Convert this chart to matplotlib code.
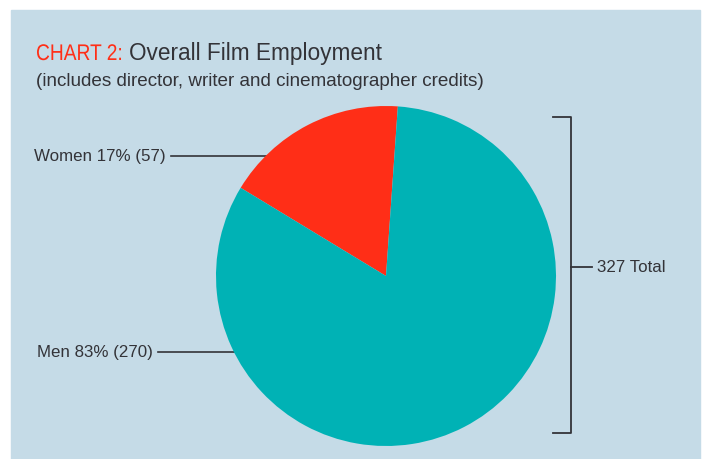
import matplotlib
matplotlib.use("Agg")
import matplotlib.pyplot as plt
from matplotlib.patches import Rectangle, PathPatch
from matplotlib.textpath import TextPath
from matplotlib.font_manager import FontProperties
from matplotlib.transforms import Affine2D

# data
labels = ["Women", "Men"]
counts = [57, 270]
shares = [17, 83]
total = 327

RED = "#ff2e17"
TEAL = "#00b2b5"
BG = "#c5dbe7"
INK = "#333338"
W, H = 704, 459

plt.rcParams["font.family"] = ["Liberation Sans", "DejaVu Sans"]

fig = plt.figure(figsize=(W / 100, H / 100), dpi=100)
ax = fig.add_axes([0, 0, 1, 1])


def py(y):
    # pixel rows from the top -> data y
    return H - y


ax.add_patch(Rectangle((11, 0), 689, py(10), color=BG, zorder=0))

cx, cy, r = 386, py(276), 170
ax.pie(counts, colors=[RED, TEAL], startangle=86, counterclock=True,
       center=(cx, cy), radius=r, frame=True,
       wedgeprops={"linewidth": 0, "zorder": 2})
ax.set_xlim(0, W)
ax.set_ylim(0, H)
ax.set_aspect("equal")
ax.axis("off")

# title: condensed red "CHART 2:" then the rest
TITLE_PT = 16.3
tp = TextPath((0, 0), "CHART 2:", size=TITLE_PT * 100 / 72,
              prop=FontProperties(family="Liberation Sans"))
ext = tp.get_extents()
sx = 84 / ext.width
tp = tp.transformed(Affine2D().translate(-ext.x0, 0).scale(sx, 1).translate(37, py(60)))
ax.add_patch(PathPatch(tp, color=RED, lw=0))
ax.text(129, py(60), "Overall Film Employment", color=INK, fontsize=TITLE_PT,
        va="baseline", ha="left")
ax.text(36, py(86), "(includes director, writer and cinematographer credits)",
        color=INK, fontsize=13.6, va="baseline", ha="left")

# leader labels
lab_y = [156, 352]
lab_x = [166, 153]
line_end = [268, 236]
for name, s, c, y, x, xe in zip(labels, shares, counts, lab_y, lab_x, line_end):
    ax.text(x, py(y), f"{name} {s}% ({c})", color=INK, fontsize=12.2,
            ha="right", va="center")
    ax.plot([x + 5, xe], [py(y), py(y)], color=INK, lw=1.2, zorder=1)

# bracket
bx = 571
ax.plot([553, bx, bx, 553], [py(117), py(117), py(433), py(433)], color=INK, lw=1.3)
ax.plot([bx, 592], [py(267), py(267)], color=INK, lw=1.3)
ax.text(597, py(267), f"{total} Total", color=INK, fontsize=12.2, ha="left", va="center")

fig.savefig("out.png", dpi=100, facecolor="white")
